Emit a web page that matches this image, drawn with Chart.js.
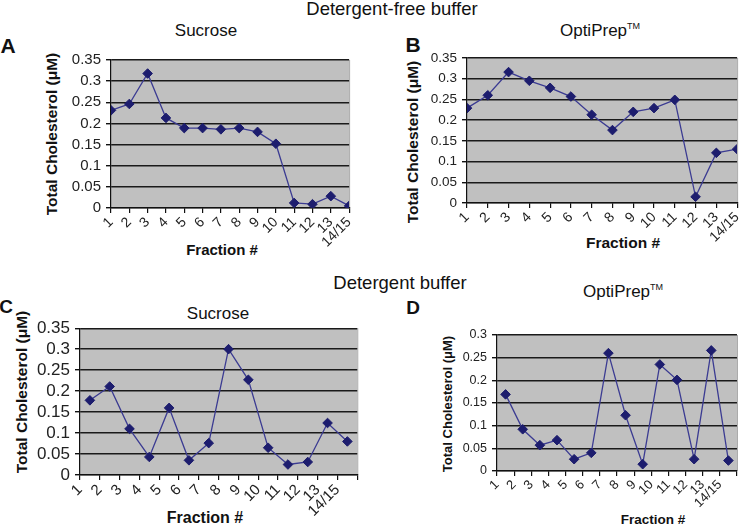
<!DOCTYPE html>
<html>
<head>
<meta charset="utf-8">
<script src="https://cdn.jsdelivr.net/npm/chart.js@4/dist/chart.umd.min.js"></script>
<style>
  html, body { margin: 0; padding: 0; background: #fff; }
  #wrap { position: relative; width: 750px; height: 527px; overflow: hidden; font-family: 'Liberation Sans', Arial, sans-serif; color: #111; }
  .box { position: absolute; }
  .t { position: absolute; transform: translate(-50%, -50%); white-space: nowrap; line-height: 1; }
  .yt { position: absolute; transform: translate(-50%, -50%) rotate(-90deg); white-space: nowrap; line-height: 1; font-weight: bold; }
  .hd { font-size: 18.5px; }
  .sub { font-size: 17px; }
  .sub sup { font-size: 9px; vertical-align: 7px; }
  .let { font-weight: bold; }
  .fx { font-weight: bold; }
</style>
</head>
<body>
<div id="wrap">
  <div class="t hd" style="left:392px; top:9px;">Detergent-free buffer</div>
  <div class="t hd" style="left:400px; top:283px;">Detergent buffer</div>

  <div class="t let" style="left:8px; top:45px; font-size:21px;">A</div>
  <div class="t let" style="left:413px; top:44px; font-size:21px;">B</div>
  <div class="t let" style="left:6px; top:306px; font-size:19px;">C</div>
  <div class="t let" style="left:413px; top:307px; font-size:19px;">D</div>

  <div class="t sub" style="left:206px; top:30px;">Sucrose</div>
  <div class="t sub" style="left:600px; top:30px;">OptiPrep<sup>TM</sup></div>
  <div class="t sub" style="left:218px; top:313px;">Sucrose</div>
  <div class="t sub" style="left:623px; top:291px;">OptiPrep<sup>TM</sup></div>

  <div class="yt" style="left:52px; top:134px; font-size:15.5px;">Total Cholesterol (μM)</div>
  <div class="yt" style="left:413px; top:142px; font-size:15.5px;">Total Cholesterol (μM)</div>
  <div class="yt" style="left:22px; top:392px; font-size:15.5px;">Total Cholesterol (μM)</div>
  <div class="yt" style="left:447px; top:404px; font-size:13px;">Total Cholesterol (μM)</div>

  <div class="t fx" style="left:222px; top:249px; font-size:15px;">Fraction #</div>
  <div class="t fx" style="left:623px; top:243px; font-size:15.5px;">Fraction #</div>
  <div class="t fx" style="left:205px; top:518px; font-size:16px;">Fraction #</div>
  <div class="t fx" style="left:653px; top:520px; font-size:13.5px;">Fraction #</div>

  <div class="box" style="left:39px; top:46px; width:323px; height:214px;"><canvas id="cA"></canvas></div>
  <div class="box" style="left:421px; top:44px; width:329px; height:211px;"><canvas id="cB"></canvas></div>
  <div class="box" style="left:30px; top:313px; width:341px; height:214px;"><canvas id="cC"></canvas></div>
  <div class="box" style="left:455px; top:321px; width:294px; height:206px;"><canvas id="cD"></canvas></div>
</div>
<script>
// ---- data ----
const fractionLabels = ['1','2','3','4','5','6','7','8','9','10','11','12','13','14/15'];
const sucroseFree = [0.231,0.246,0.318,0.213,0.189,0.189,0.186,0.189,0.180,0.152,0.012,0.009,0.028,0.005];
const optiprepFree = [0.229,0.260,0.316,0.295,0.278,0.257,0.213,0.176,0.220,0.229,0.249,0.015,0.121,0.130];
const sucroseDet = [0.178,0.211,0.110,0.043,0.160,0.035,0.076,0.300,0.227,0.065,0.025,0.031,0.124,0.080];
const optiprepDet = [0.169,0.092,0.057,0.068,0.026,0.040,0.260,0.123,0.015,0.235,0.201,0.026,0.266,0.023];
const yTicks035 = [0, 0.05, 0.1, 0.15, 0.2, 0.25, 0.3, 0.35];
const yTicks030 = [0, 0.05, 0.1, 0.15, 0.2, 0.25, 0.3];

const plotBg = {
  id: 'plotBg',
  beforeDraw(c) {
    const { ctx, chartArea: a } = c;
    ctx.save();
    ctx.fillStyle = '#c0c0c0';
    ctx.fillRect(a.left, a.top, a.width, a.height);
    ctx.strokeStyle = '#a9a9a9';
    ctx.lineWidth = 1;
    ctx.beginPath();
    ctx.moveTo(a.right + 0.5, a.top);
    ctx.lineTo(a.right + 0.5, a.bottom);
    ctx.stroke();
    ctx.restore();
  }
};

const FONT = "'Liberation Sans', Arial, sans-serif";

function makeChart(id, values, yTicks, o) {
  const shift = o.between ? 0.5 : 0;
  const pts = values.map((v, i) => ({ x: i + shift, y: v }));
  const xMax = o.between ? values.length : values.length - 1;
  return new Chart(document.getElementById(id), {
    type: 'line',
    data: {
      datasets: [{
        data: pts,
        borderColor: '#3b3b92',
        borderWidth: 1.3,
        pointStyle: 'rectRot',
        pointRadius: 4.8,
        pointBackgroundColor: '#1d1d6e',
        pointBorderColor: '#1d1d6e',
        pointBorderWidth: 1,
        tension: 0
      }]
    },
    options: {
      responsive: true,
      maintainAspectRatio: false,
      animation: false,
      events: [],
      layout: { padding: { top: 14, right: o.rp, left: 0, bottom: 0 } },
      plugins: { legend: { display: false }, tooltip: { enabled: false } },
      scales: {
        x: {
          type: 'linear',
          min: 0,
          max: xMax,
          afterFit: s => { s.height = o.xH; },
          afterBuildTicks: s => { s.ticks = Array.from({ length: xMax + 1 }, (_, i) => ({ value: i })); },
          ticks: {
            autoSkip: false,
            minRotation: 45,
            maxRotation: 45,
            padding: 1,
            color: '#222',
            font: { family: FONT, size: o.xFont },
            callback: v => (fractionLabels[v] !== undefined ? fractionLabels[v] : '')
          },
          grid: { drawOnChartArea: false, drawTicks: true, tickLength: 5, tickColor: '#111', lineWidth: 1.2 },
          border: { display: true, color: '#111', width: 1.2 }
        },
        y: {
          min: 0,
          max: yTicks[yTicks.length - 1],
          afterFit: s => { s.width = o.yW; },
          afterBuildTicks: s => { s.ticks = yTicks.map(v => ({ value: v })); },
          ticks: {
            autoSkip: false,
            padding: 5,
            color: '#222',
            font: { family: FONT, size: o.yFont },
            callback: v => String(+v.toFixed(2))
          },
          grid: { color: '#1a1a1a', lineWidth: 1.4, drawTicks: true, tickLength: 5, tickColor: '#111' },
          border: { display: true, color: '#111', width: 1.2 }
        }
      }
    },
    plugins: [plotBg]
  });
}

makeChart('cA', sucroseFree,  yTicks035, { between: false, yW: 72, xH: 52, rp: 10, yFont: 15,   xFont: 14 });
makeChart('cB', optiprepFree, yTicks035, { between: false, yW: 46, xH: 52, rp: 3,  yFont: 13.5, xFont: 14 });
makeChart('cC', sucroseDet,   yTicks035, { between: true,  yW: 50, xH: 52, rp: 8,  yFont: 17,   xFont: 15 });
makeChart('cD', optiprepDet,  yTicks030, { between: true,  yW: 42, xH: 56, rp: 4,  yFont: 12.5, xFont: 13 });
</script>
</body>
</html>
